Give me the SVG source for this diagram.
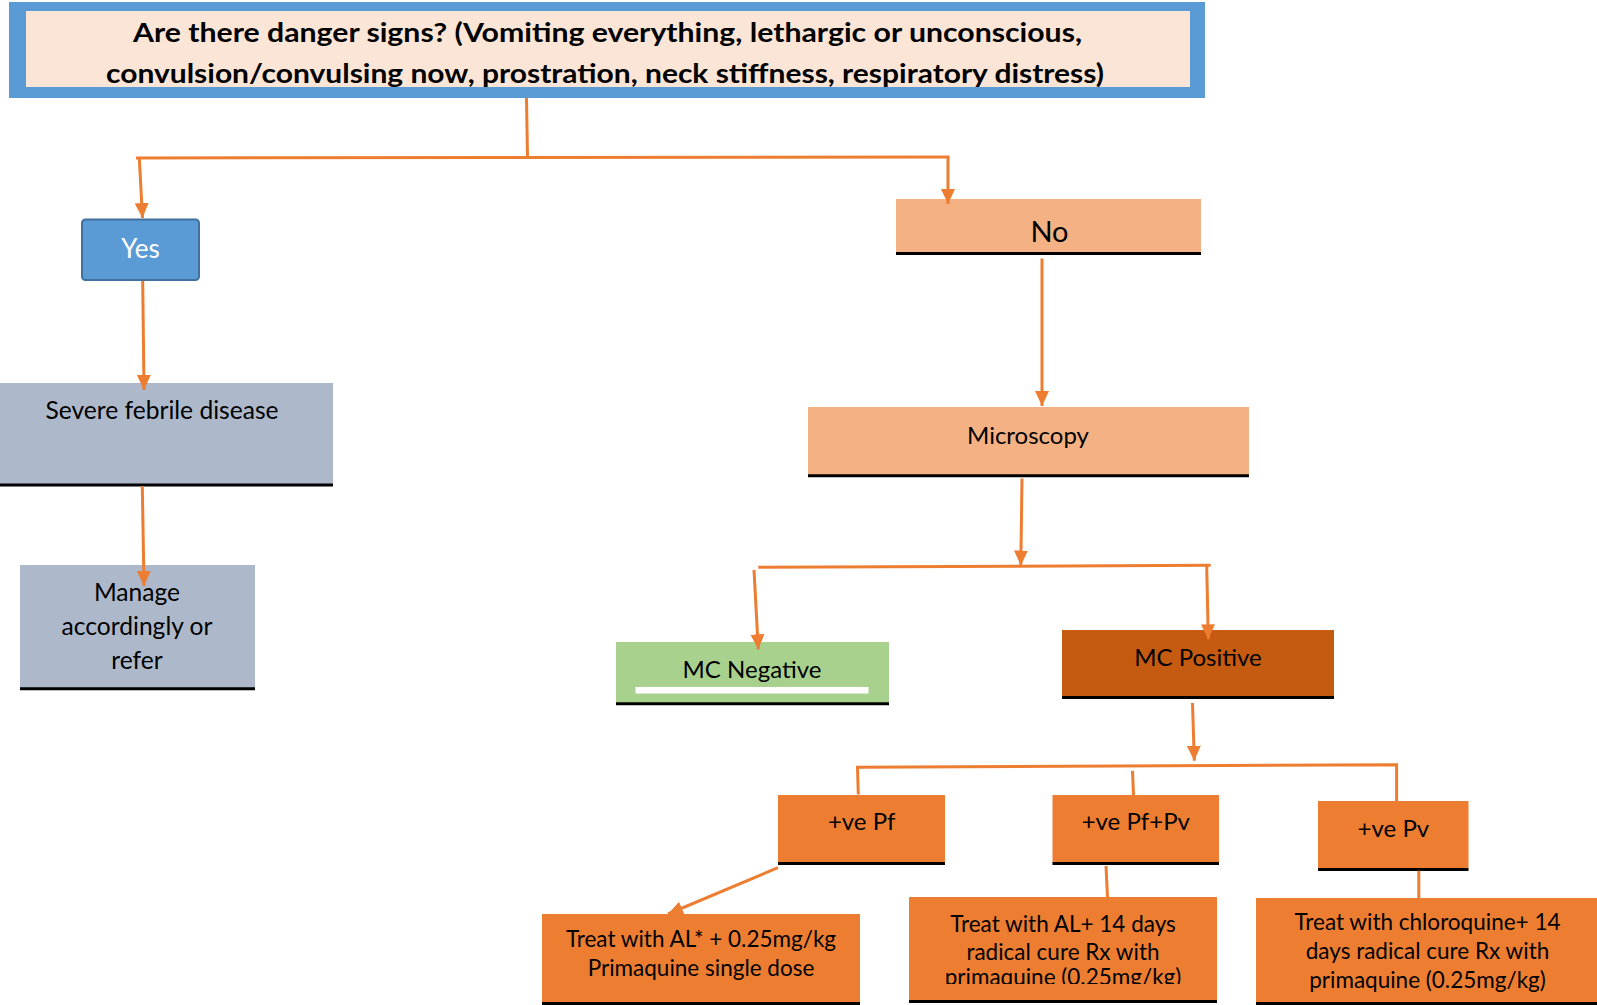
<svg xmlns="http://www.w3.org/2000/svg" width="1597" height="1005" viewBox="0 0 1597 1005">
  <style>
    text { font-family: Lato, "Open Sans", "Liberation Sans", sans-serif; fill: #000; text-anchor: middle; }
    .title { font-weight: bold; font-size: 26.5px; }
    .t { font-size: 24px; }
    .lg { font-size: 24.6px; }
    .big { font-size: 29px; }
    .sm { font-size: 22.5px; }
    .wt { fill: #fff; }
    .grey { fill: #ADB9CA; }
    .peach { fill: #F4B183; }
    .green { fill: #A9D18E; }
    .dark { fill: #C55A11; }
    .orange { fill: #ED7D31; }
    .base { stroke: #000; stroke-width: 3; }
    .conn { fill: none; stroke: #ED7D31; stroke-width: 3; }
  </style>
  <defs>
    <marker id="arrow" markerUnits="userSpaceOnUse" markerWidth="16" markerHeight="16" viewBox="0 0 16 16" refX="15" refY="8" orient="auto">
      <path d="M0,1 L15,8 L0,15 Z" fill="#ED7D31"/>
    </marker>
    <clipPath id="clipMix">
      <rect x="909" y="897" width="308" height="87"/>
    </clipPath>
  </defs>

  <rect width="1597" height="1005" fill="#fff"/>

  <!-- question box -->
  <g id="node-question">
    <rect x="9" y="2" width="1196" height="96" fill="#5B9BD5"/>
    <rect x="26" y="11" width="1164" height="76" fill="#FBE5D6"/>
    <text class="title" x="607.5" y="41.7" textLength="949" lengthAdjust="spacingAndGlyphs">Are there danger signs? (Vomiting everything, lethargic or unconscious,</text>
    <text class="title" x="605" y="83.3" textLength="998" lengthAdjust="spacingAndGlyphs">convulsion/convulsing now, prostration, neck stiffness, respiratory distress)</text>
  </g>

  <!-- left branch -->
  <g id="node-yes">
    <rect x="82" y="219.5" width="117" height="60.5" rx="3.5" fill="#5B9BD5" stroke="#41719C" stroke-width="2"/>
    <text class="wt" x="140.5" y="258.3" font-size="26">Yes</text>
  </g>
  <g id="node-severe">
    <rect class="grey" x="0" y="383" width="333" height="102"/>
    <line class="base" x1="0" y1="485" x2="333" y2="485"/>
    <text class="lg" x="162" y="419.3">Severe febrile disease</text>
  </g>
  <g id="node-manage">
    <rect class="grey" x="20" y="565" width="235" height="124"/>
    <line class="base" x1="20" y1="688.8" x2="255" y2="688.8"/>
    <text class="lg" x="137" y="601">Manage</text>
    <text class="lg" x="137" y="635">accordingly or</text>
    <text class="lg" x="137" y="669">refer</text>
  </g>

  <!-- right branch -->
  <g id="node-no">
    <rect class="peach" x="896" y="199" width="305" height="54"/>
    <line class="base" x1="896" y1="253.5" x2="1201" y2="253.5"/>
    <text class="big" x="1049.5" y="242">No</text>
  </g>
  <g id="node-microscopy">
    <rect class="peach" x="808" y="407" width="441" height="69"/>
    <line class="base" x1="808" y1="475.8" x2="1249" y2="475.8"/>
    <text class="t" x="1028" y="444">Microscopy</text>
  </g>
  <g id="node-mc-negative">
    <rect class="green" x="616" y="642" width="273" height="62"/>
    <rect x="635.5" y="687" width="233" height="6.5" fill="#fff"/>
    <line class="base" x1="616" y1="703.8" x2="889" y2="703.8"/>
    <text class="t" x="752" y="677.6">MC Negative</text>
  </g>
  <g id="node-mc-positive">
    <rect class="dark" x="1062" y="630" width="272" height="68"/>
    <line class="base" x1="1062" y1="697.5" x2="1334" y2="697.5"/>
    <text class="t" x="1198" y="665.5">MC Positive</text>
  </g>

  <!-- species results -->
  <g id="node-pf">
    <rect class="orange" x="778" y="795" width="167" height="68"/>
    <line class="base" x1="778" y1="863.5" x2="945" y2="863.5"/>
    <text class="t" x="861.7" y="830">+ve Pf</text>
  </g>
  <g id="node-pfpv">
    <rect class="orange" x="1052.5" y="795" width="166.5" height="68"/>
    <line class="base" x1="1052.5" y1="863.5" x2="1219" y2="863.5"/>
    <text class="t" x="1135.8" y="830">+ve Pf+Pv</text>
  </g>
  <g id="node-pv">
    <rect class="orange" x="1318" y="801" width="150.5" height="68"/>
    <line class="base" x1="1318" y1="869.5" x2="1468.5" y2="869.5"/>
    <text class="t" x="1393.4" y="836.7">+ve Pv</text>
  </g>

  <!-- treatments -->
  <g id="node-treat-pf">
    <rect class="orange" x="542" y="914" width="318" height="89"/>
    <line class="base" x1="542" y1="1003.5" x2="860" y2="1003.5"/>
    <text class="sm" x="701" y="947.3">Treat with AL* + 0.25mg/kg</text>
    <text class="sm" x="701" y="976">Primaquine single dose</text>
  </g>
  <g id="node-treat-pfpv">
    <rect class="orange" x="909" y="897" width="308" height="104"/>
    <line class="base" x1="909" y1="1001.5" x2="1217" y2="1001.5"/>
    <g clip-path="url(#clipMix)">
      <text class="sm" x="1063" y="931.5">Treat with AL+ 14 days</text>
      <text class="sm" x="1063" y="960">radical cure Rx with</text>
      <text class="sm" x="1063" y="985">primaquine (0.25mg/kg)</text>
    </g>
  </g>
  <g id="node-treat-pv">
    <rect class="orange" x="1256" y="898" width="341" height="105"/>
    <line class="base" x1="1256" y1="1003.5" x2="1597" y2="1003.5"/>
    <text class="sm" x="1427.5" y="930">Treat with chloroquine+ 14</text>
    <text class="sm" x="1427.5" y="959.3">days radical cure Rx with</text>
    <text class="sm" x="1427.5" y="988.3">primaquine (0.25mg/kg)</text>
  </g>

  <!-- connectors -->
  <g id="connectors">
    <path class="conn" d="M526.5,98 L527.5,158"/>
    <path class="conn" d="M136,158 L949.5,157"/>
    <path class="conn" d="M139.3,158 L142.5,218" marker-end="url(#arrow)"/>
    <path class="conn" d="M948,157 L948,204" marker-end="url(#arrow)"/>
    <path class="conn" d="M142.7,281 L144,390" marker-end="url(#arrow)"/>
    <path class="conn" d="M142.3,486 L144,586" marker-end="url(#arrow)"/>
    <path class="conn" d="M1042,258.5 L1042,406" marker-end="url(#arrow)"/>
    <path class="conn" d="M1022,478.5 L1020.8,565.5" marker-end="url(#arrow)"/>
    <path class="conn" d="M758.3,567.3 L1210.7,565.3"/>
    <path class="conn" d="M754,570 L758.3,649.3" marker-end="url(#arrow)"/>
    <path class="conn" d="M1206.7,566 L1208.3,639.3" marker-end="url(#arrow)"/>
    <path class="conn" d="M1192.5,703 L1194.3,760.7" marker-end="url(#arrow)"/>
    <path class="conn" d="M858.3,794.5 L857.5,767.3 L1396.6,764.7 L1396.6,801"/>
    <path class="conn" d="M1132.5,770.7 L1133.5,795"/>
    <path class="conn" d="M777.9,867.7 L668,914" marker-end="url(#arrow)"/>
    <path class="conn" d="M1106,866 L1107.5,897"/>
    <path class="conn" d="M1418.8,870.7 L1418.8,898"/>
  </g>
</svg>
